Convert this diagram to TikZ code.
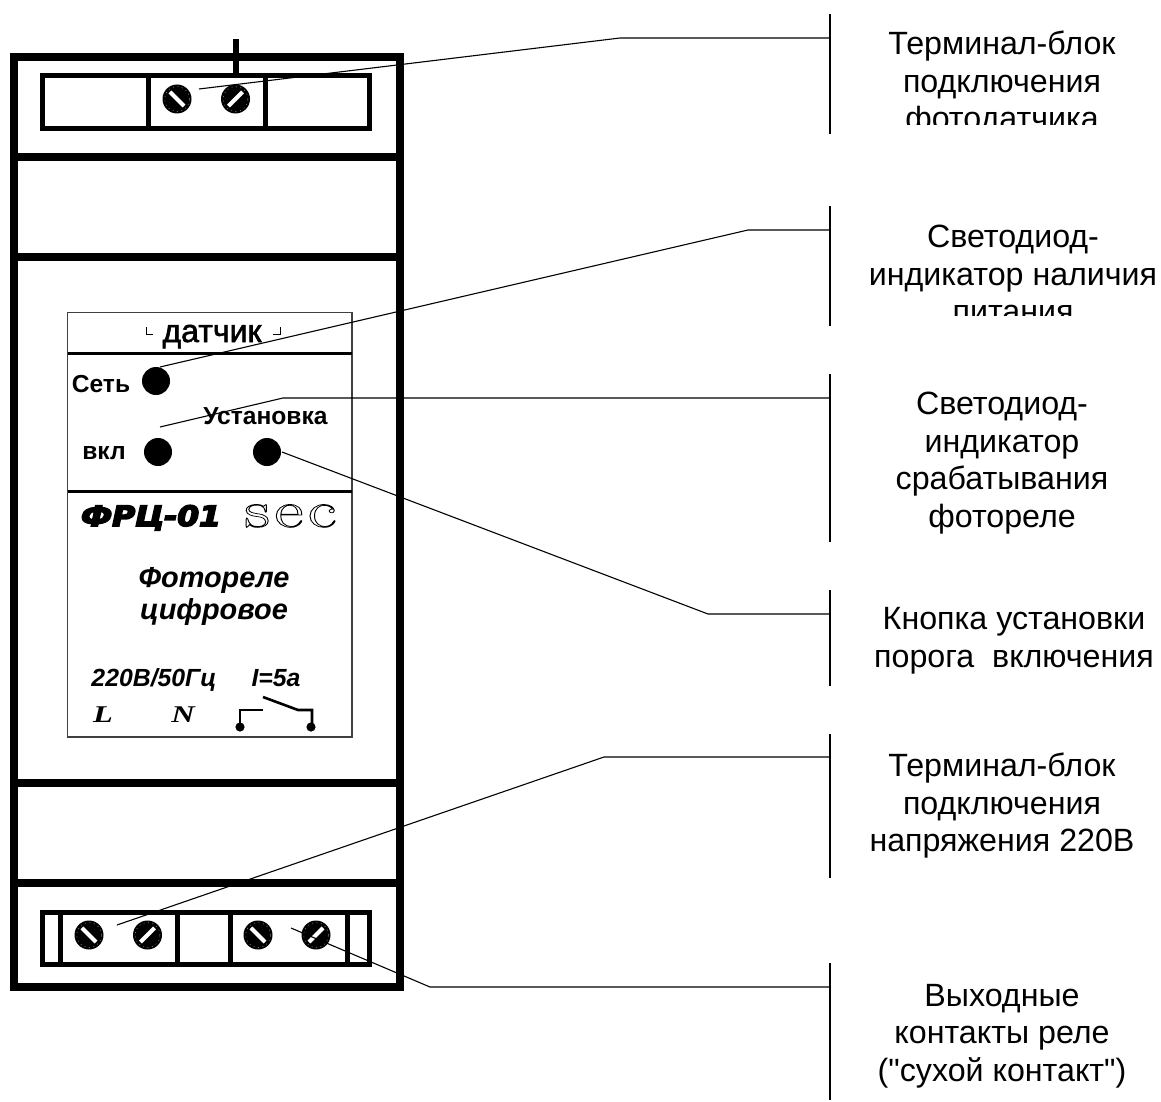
\documentclass[tikz,border=0pt]{standalone}
\usepackage{fontspec}
\setmainfont{Liberation Sans}[Ligatures=TeXOff]
\newfontfamily\timesfont{Liberation Serif}
\newfontfamily\heavyfont{DejaVu Sans}
\newfontfamily\secfont{Latin Modern Roman}[LetterSpace=6]
\newcommand{\strokedtext}[2]{\special{pdf:code 2 Tr #1 w}#2\special{pdf:code 0 Tr}}
\tikzset{
  thick line/.style = {line width = 8pt},
  block line/.style = {line width = 5pt},
  thin line/.style = {line width = 1.1pt},
  callout/.style = {font = \fontsize{32.2}{37.5}\selectfont, align = center, inner sep = 0pt},
  panel bold/.style = {font = \fontsize{24.6}{28}\selectfont\bfseries, inner sep = 0pt},
  panel italic/.style = {font = \fontsize{28.9}{32}\selectfont\bfseries\itshape, align = center, inner sep = 0pt},
  panel small/.style = {font = \fontsize{24.8}{26}\selectfont\bfseries\itshape, inner sep = 0pt, anchor = base},
  panel serif/.style = {font = \fontsize{24}{24}\selectfont\timesfont\bfseries\itshape, inner sep = 0pt, anchor = base, xscale = 1.35},
  led/.style = {circle, fill = black, minimum size = 28pt, inner sep = 0pt},
}
\begin{document}
\begin{tikzpicture}[x = 1pt, y = -1pt]
\useasboundingbox (0,0) rectangle (1161,1102);
% housing
\draw [thick line] (13.5,57) rectangle (399.5,987);
\foreach \ypos in {157.5,257,783,883} \draw [thick line] (10,\ypos) -- (403,\ypos);
% top terminal block
\draw [line width = 6pt] (236,39) -- (236,73);
\draw [block line] (42.5,75.5) rectangle (369.5,128.5);
\foreach \xpos in {148,265} \draw [block line] (\xpos,75.5) -- (\xpos,128.5);
% bottom terminal block
\draw [block line] (42.5,912.5) rectangle (369.5,964.5);
\foreach \xpos in {60,177,230,347} \draw [block line] (\xpos,912.5) -- (\xpos,964.5);
% screws
\foreach \sx/\sy/\ang in {177/99/-45,235.5/99/45,89/935/-45,147.5/935/45,258/935/-45,316/935/45} {
  \fill (\sx,\sy) circle (14.5pt);
  \draw [gray, line width = 0.6pt, dash pattern = on 1pt off 3.5pt] (\sx,\sy) circle (12.5pt);
  \draw [white, line width = 4pt, rotate around = {\ang:(\sx,\sy)}] (\sx-10,\sy) -- (\sx+10,\sy);
}
% front panel
\draw [line width = 1.2pt, draw = black!75] (67.5,312.5) rectangle (352,737);
\draw [line width = 3.4pt] (67.5,353.5) -- (352,353.5);
\draw [line width = 3pt] (67.5,491.5) -- (352,491.5);
\node [inner sep = 0pt, anchor = base] (sensorlabel) at (212,342) {\fontsize{32}{32}\selectfont\strokedtext{0.6}{датчик}};
\draw [line width = 1pt] (146,327) -- (146,334.5) -- (153,334.5);
\draw [line width = 1pt] (280,327) -- (280,334.5) -- (273,334.5);
\node [panel bold] (netlabel) at (101,384) {Сеть};
\node [panel bold] (onlabel) at (104,453) {вкл};
\node [panel bold] (setuplabel) at (265.5,416) {Установка};
\node [led] (netled) at (156,381) {};
\node [led] (onled) at (158,452) {};
\node [led] (setupled) at (267,452) {};
\node [font = \fontsize{28}{28}\selectfont\heavyfont\bfseries\itshape, inner sep = 0pt, anchor = base, xscale = 1.12] (modellabel) at (151,526) {\strokedtext{1.6}{ФРЦ-01}};
\node [font = \fontsize{51}{51}\selectfont\secfont, inner sep = 0pt, anchor = base, xscale = 1.4] (brandlabel) at (290.5,527)
  {\special{pdf:code 1 Tr 0.7 w}sec\special{pdf:code 0 Tr}};
\node [panel italic] (titlelabel) at (214,596) {Фотореле\\цифровое};
\node [panel small] (ratinglabel) at (154,686) {220В/50Гц};
\node [panel small] (currentlabel) at (276,686) {I=5a};
\node [panel serif] (llabel) at (103,722) {L};
\node [panel serif] (nlabel) at (183,722) {N};
% relay contact symbol
\draw [line width = 2.6pt] (240,727) -- (240,710) -- (263,710);
\draw [line width = 2.6pt] (263,697) -- (298,710) -- (312,710) -- (312,727);
\fill (240,727) circle (4.6pt);
\fill (311,727) circle (4.6pt);
% callout texts
\begin{scope}
\clip (860,0) rectangle (1161,125);
\node [callout] (photolabel) at (1002,84) {Терминал-блок\\подключения\\фотодатчика};
\end{scope}
\begin{scope}
\clip (860,200) rectangle (1161,315);
\node [callout] (powerlabel) at (1013,274) {Светодиод-\\индикатор наличия\\питания};
\end{scope}
\node [callout] (triplabel) at (1002,463) {Светодиод-\\индикатор\\срабатывания\\фотореле};
\node [callout] (buttonlabel) at (1014,641) {Кнопка установки\\порога\ \ включения};
\node [callout] (mainslabel) at (1002,806) {Терминал-блок\\подключения\\напряжения 220В};
\node [callout] (relaylabel) at (1002,1036) {Выходные\\контакты реле\\("сухой контакт")};
% callout leaders
\coordinate (a1) at (199,89);   \coordinate (b1) at (620,38);  \coordinate (c1) at (830,38);
\coordinate (a2) at (160,367);  \coordinate (b2) at (748,230); \coordinate (c2) at (830,230);
\coordinate (a3) at (160,427);  \coordinate (b3) at (283,398); \coordinate (c3) at (830,398);
\coordinate (a4) at (282,452);  \coordinate (b4) at (708,614); \coordinate (c4) at (830,614);
\coordinate (a5) at (117,925);  \coordinate (b5) at (604,757); \coordinate (c5) at (830,757);
\coordinate (a6) at (291,928);  \coordinate (b6) at (430,987); \coordinate (c6) at (830,987);
\foreach \n in {1,...,6} \draw [thin line] (a\n) -- (b\n) -- (c\n);
\foreach \n/\ytop/\ybot in {1/14/134,2/206/326,3/374/542,4/590/686,5/734/878,6/963/1100} {
  \coordinate (t\n) at (830,\ytop);
  \coordinate (u\n) at (830,\ybot);
  \draw [thin line] (t\n) -- (u\n);
}
\end{tikzpicture}
\end{document}
